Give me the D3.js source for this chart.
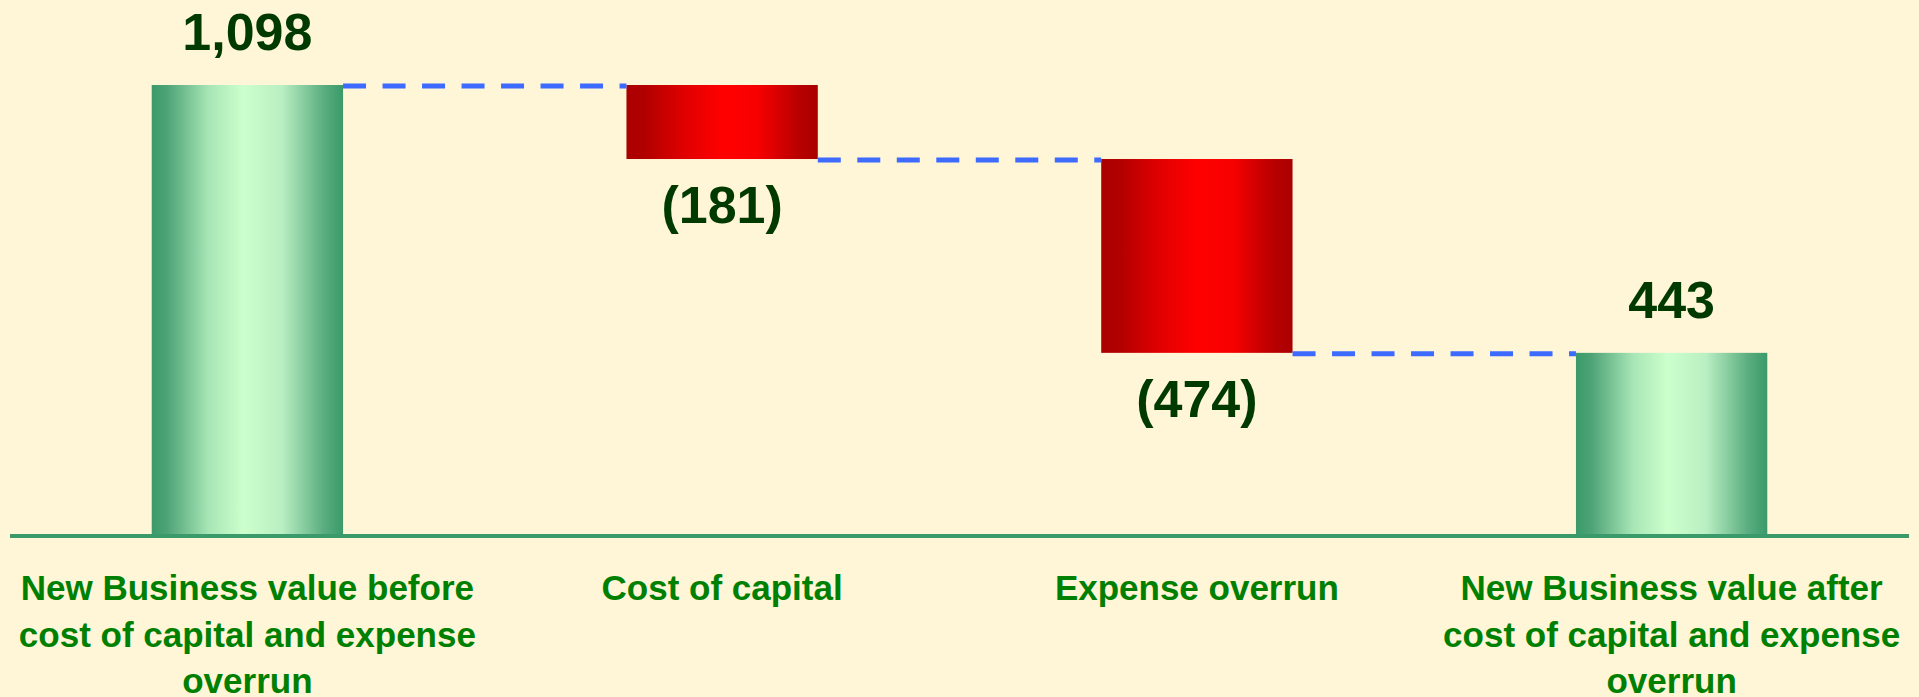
<!DOCTYPE html>
<html>
<head>
<meta charset="utf-8">
<script src="https://cdn.jsdelivr.net/npm/d3@7"></script>
<style>
  html, body { margin: 0; padding: 0; background: #fff5d7; }
  svg { display: block; }
</style>
</head>
<body>
<div id="chart"></div>
<script>
// data
var categories = ["before", "capital", "expense", "after"];
var categoryLines = [
  ["New Business value before", "cost of capital and expense", "overrun"],
  ["Cost of capital"],
  ["Expense overrun"],
  ["New Business value after", "cost of capital and expense", "overrun"]
];
var values = [1098, -181, -474, 443];
var kinds = ["total", "delta", "delta", "total"];
var valueLabels = ["1,098", "(181)", "(474)", "443"];

var W = 1919, H = 697;

var svg = d3.select("#chart").append("svg")
  .attr("width", W).attr("height", H);

svg.append("rect").attr("width", W).attr("height", H).attr("fill", "#fff5d7");

var defs = svg.append("defs");
var gGreen = defs.append("linearGradient").attr("id", "gGreen")
  .attr("x1", "0%").attr("x2", "100%").attr("y1", "0%").attr("y2", "0%");
[["0%", "#3a9a6a"], ["8%", "#4ea376"], ["30%", "#a8e6b6"], ["48%", "#ccffcc"], ["68%", "#b9efc3"], ["90%", "#5aad7f"], ["100%", "#3a9a6a"]]
  .forEach(function (s) { gGreen.append("stop").attr("offset", s[0]).attr("stop-color", s[1]); });
var gRed = defs.append("linearGradient").attr("id", "gRed")
  .attr("x1", "0%").attr("x2", "100%").attr("y1", "0%").attr("y2", "0%");
[["0%", "#aa0000"], ["10%", "#b20000"], ["30%", "#e00000"], ["50%", "#ff0000"], ["68%", "#f80000"], ["90%", "#b80000"], ["100%", "#aa0000"]]
  .forEach(function (s) { gRed.append("stop").attr("offset", s[0]).attr("stop-color", s[1]); });

// waterfall steps
var steps = [], run = 0;
values.forEach(function (v, i) {
  var s, e;
  if (kinds[i] === "total") { s = 0; e = v; run = v; }
  else { s = run; e = run + v; run = e; }
  steps.push({ key: categories[i], start: s, end: e, kind: kinds[i], label: valueLabels[i], lines: categoryLines[i] });
});

var x = d3.scaleBand().domain(categories).range([10, 1909])
  .paddingInner(0.597).paddingOuter(0.2985);
var y = d3.scaleLinear().domain([0, 1098]).range([534, 85]);

// bars
svg.selectAll("rect.bar").data(steps).enter().append("rect")
  .attr("class", "bar")
  .attr("x", function (d) { return x(d.key); })
  .attr("width", x.bandwidth())
  .attr("y", function (d) { return y(Math.max(d.start, d.end)); })
  .attr("height", function (d) { return Math.abs(y(d.start) - y(d.end)); })
  .attr("fill", function (d) { return d.kind === "total" ? "url(#gGreen)" : "url(#gRed)"; });

// connectors
svg.selectAll("line.conn").data(steps.slice(0, -1)).enter().append("line")
  .attr("class", "conn")
  .attr("x1", function (d) { return x(d.key) + x.bandwidth(); })
  .attr("x2", function (d, i) { return x(steps[i + 1].key); })
  .attr("y1", function (d) { return y(d.end) + 1; })
  .attr("y2", function (d) { return y(d.end) + 1; })
  .attr("stroke", "#3d6bff").attr("stroke-width", 5)
  .attr("stroke-dasharray", "23,16.5");

// baseline
svg.append("line")
  .attr("x1", 10).attr("x2", 1909)
  .attr("y1", y(0) + 2).attr("y2", y(0) + 2)
  .attr("stroke", "#3a9a6a").attr("stroke-width", 4);

// value labels
svg.selectAll("text.val").data(steps).enter().append("text")
  .attr("class", "val")
  .attr("x", function (d) { return x(d.key) + x.bandwidth() / 2; })
  .attr("y", function (d) {
    return d.kind === "total" ? y(d.end) - 35 : y(d.end) + 64;
  })
  .attr("text-anchor", "middle")
  .attr("font-family", "'Liberation Sans', Arial, sans-serif")
  .attr("font-weight", "bold")
  .attr("font-size", "52px")
  .attr("fill", "#003a00")
  .text(function (d) { return d.label; });

// category labels
var cat = svg.selectAll("text.cat").data(steps).enter().append("text")
  .attr("class", "cat")
  .attr("text-anchor", "middle")
  .attr("font-family", "'Liberation Sans', Arial, sans-serif")
  .attr("font-weight", "bold")
  .attr("font-size", "35px")
  .attr("fill", "#008000");
cat.selectAll("tspan").data(function (d) { return d.lines.map(function (l) { return { l: l, cx: x(d.key) + x.bandwidth() / 2 }; }); })
  .enter().append("tspan")
  .attr("x", function (t) { return t.cx; })
  .attr("y", function (t, i) { return 600 + i * 46.5; })
  .text(function (t) { return t.l; });
</script>
</body>
</html>
